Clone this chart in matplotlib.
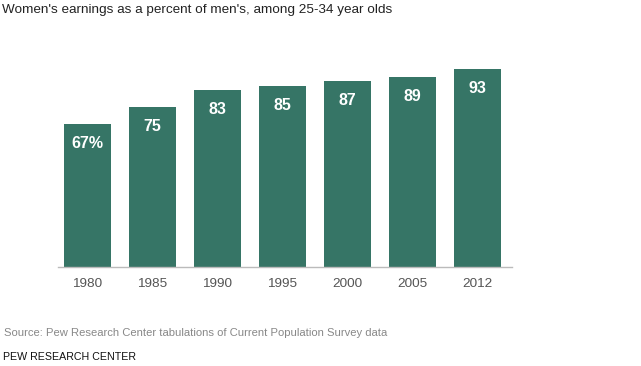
import matplotlib
matplotlib.use("Agg")
import matplotlib.pyplot as plt
from matplotlib.transforms import offset_copy

years = ["1980", "1985", "1990", "1995", "2000", "2005", "2012"]
values = [67, 75, 83, 85, 87, 89, 93]
labels = ["67%", "75", "83", "85", "87", "89", "93"]

plt.rcParams['font.family'] = ['Liberation Sans', 'DejaVu Sans']

W, H = 641, 366
fig = plt.figure(figsize=(W/100, H/100), dpi=100)
ax = fig.add_axes([58/W, (H-267)/H, 454/W, 217/H])

x = list(range(len(years)))
ax.bar(x, values, width=0.72, color="#367566", edgecolor="none")
ax.set_xlim(-0.454, 6.531)
ax.set_ylim(0, 101.7)

for s in ["top", "right", "left"]:
    ax.spines[s].set_visible(False)
ax.spines["bottom"].set_color("#bbbbbb")
ax.spines["bottom"].set_linewidth(1)
ax.set_yticks([])
ax.set_xticks(x)
ax.set_xticklabels(years, fontsize=9.7, color="#555555")
ax.tick_params(axis="x", length=0, pad=8)

for xi, v, lab in zip(x, values, labels):
    tr = offset_copy(ax.transData, fig=fig, x=0, y=-19.5, units="dots")
    ax.text(xi, v, lab, transform=tr, ha="center", va="center",
            color="white", fontsize=11.5, fontweight="bold")

fig.text(2/W, 1 - 10/H, "Women's earnings as a percent of men's, among 25-34 year olds",
         ha="left", va="center", fontsize=9.7, color="#222222")
fig.text(4/W, 1 - 333/H, "Source: Pew Research Center tabulations of Current Population Survey data",
         ha="left", va="center", fontsize=8.1, color="#888888")
fig.text(3/W, 1 - 356.5/H, "PEW RESEARCH CENTER",
         ha="left", va="center", fontsize=7.7, color="#111111")

fig.savefig("out.png", dpi=100)
